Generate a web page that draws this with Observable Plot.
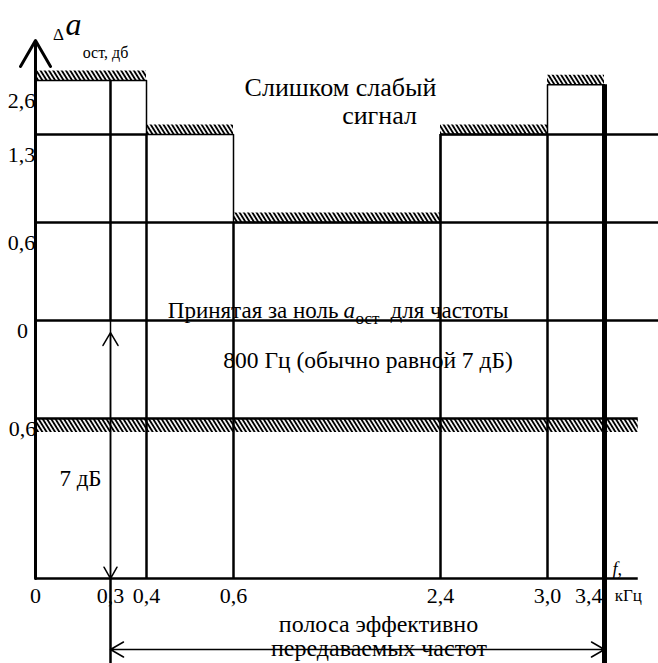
<!DOCTYPE html>
<html><head><meta charset="utf-8">
<script src="https://cdn.jsdelivr.net/npm/d3@7"></script>
<script src="https://cdn.jsdelivr.net/npm/@observablehq/plot@0.6"></script>
<style>body{margin:0;background:#fff} svg text{font-family:"Liberation Serif",serif}</style>
</head><body><div id="chart"></div>
<script>
// boundary frequencies, kHz
const freqs = [0, 0.3, 0.4, 0.6, 2.4, 3.0, 3.4];
const freqLabels = ["0", "0,3", "0,4", "0,6", "2,4", "3,0", "3,4"];
// residual attenuation levels, dB
const levels = [2.6, 1.3, 0.6, 0, -0.6];
const levelLabels = ["2,6", "1,3", "0,6", "0", "0,6"];
// upper tolerance template (start frequency of each step and its level)
const upperX = [0, 0.4, 0.6, 2.4, 3.0, 3.4];
const upperY = [2.6, 1.3, 0.6, 1.3, 2.5, 2.5];
// lower tolerance level
const lowerLevel = -0.6;
// schematic (non-uniform) axes: piecewise scales
const xDomain = [0, 0.3, 0.4, 0.6, 2.4, 3.0, 3.4, 3.8];
const xRange = [35, 110, 146, 233, 440, 547, 604, 658];
const yDomain = [-2.4, -1.5, -0.6, 0, 0.6, 1.3, 2.6, 3.6];
const yRange = [663, 578, 418, 320, 222, 134, 80, 0];
const axisY0 = -1.5;   // level of the frequency axis
const xEnd = 3.65, xMax = 3.8, yTop = 3.1, yBottom = -2.4;

const steps = upperX.slice(0, -1).map((x, i) => ({x1: x, x2: upperX[i + 1], y: upperY[i]}));
const upperPts = upperX.map((x, i) => ({x, y: upperY[i]}));
const hRules = [
  {y: 1.3, x1: 0, x2: 0.4}, {y: 1.3, x1: 2.4, x2: xMax},
  {y: 0.6, x1: 0, x2: xMax}, {y: 0, x1: 0, x2: xMax},
  {y: lowerLevel, x1: 0, x2: xEnd}
];
const vRules = [
  {x: 0.3, y1: 2.6, y2: 0}, {x: 0.3, y1: axisY0, y2: yBottom},
  {x: 0.4, y1: 1.3, y2: axisY0}, {x: 0.6, y1: 0.6, y2: axisY0},
  {x: 2.4, y1: 1.3, y2: axisY0}, {x: 3.0, y1: 1.3, y2: axisY0}
];
const serif = '"Liberation Serif", serif';
const T = (s, o) => Plot.text([s], {text: d => d, fontFamily: serif, fill: "#000", ...o});
const xi = freqs.map((d, i) => i);
const li = levels.map((d, i) => i);

const plot = Plot.plot({
  width: 658, height: 663,
  margin: 0,
  style: {fontFamily: serif, fontSize: "20px", background: "#fff", color: "#000"},
  x: {type: "linear", domain: xDomain, range: xRange, axis: null},
  y: {type: "linear", domain: yDomain, range: yRange, axis: null},
  marks: [
    // hatching
    Plot.ruleY(steps, {y: "y", x1: "x1", x2: "x2", stroke: "url(#hatch)", strokeWidth: 10, dy: -5}),
    Plot.ruleY([lowerLevel], {x1: 0, x2: xEnd, stroke: "url(#hatch)", strokeWidth: 13, dy: 7}),
    // upper template outline
    Plot.line(upperPts, {x: "x", y: "y", curve: "step-after", stroke: "#000", strokeWidth: 1.5}),
    // grid of boundaries
    Plot.ruleY(hRules, {y: "y", x1: "x1", x2: "x2", stroke: "#000", strokeWidth: 2.5}),
    Plot.ruleX(vRules, {x: "x", y1: "y1", y2: "y2", stroke: "#000", strokeWidth: 2.5}),
    Plot.ruleX([3.4], {y1: 2.5, y2: yBottom, stroke: "#000", strokeWidth: 5}),
    // axes
    Plot.ruleY([axisY0], {x1: 0, x2: xEnd, stroke: "#000", strokeWidth: 2.5}),
    Plot.arrow([0], {x1: 0, x2: 0, y1: axisY0, y2: yTop, stroke: "#000", strokeWidth: 3, headLength: 15}),
    // 7 dB arrows
    Plot.arrow([0], {x1: 0.3, x2: 0.3, y1: 0, y2: axisY0, stroke: "#000", strokeWidth: 1.5, headLength: 13}),
    Plot.arrow([0], {x1: 0.3, x2: 0.3, y1: axisY0, y2: 0, insetEnd: 12, stroke: "#000", strokeWidth: 1.5, headLength: 15}),
    // band arrow
    Plot.arrow([0], {x1: 1.9, x2: 0.3, y1: -2.252, y2: -2.252, stroke: "#000", strokeWidth: 1.5, headLength: 15}),
    Plot.arrow([0], {x1: 1.9, x2: 3.4, y1: -2.252, y2: -2.252, stroke: "#000", strokeWidth: 1.5, headLength: 15}),
    // frequency tick labels
    Plot.text(xi.slice(0, -1), {x: i => freqs[i], y: axisY0, text: i => freqLabels[i], dy: 17, fontSize: 22, fontFamily: serif, fill: "#000"}),
    Plot.text(xi.slice(-1), {x: i => freqs[i], y: axisY0, text: i => freqLabels[i], textAnchor: "end", dx: -2, dy: 17, fontSize: 22, fontFamily: serif, fill: "#000"}),
    // level tick labels
    Plot.text(li.slice(0, 3), {x: 0, y: i => levels[i], text: i => levelLabels[i], dx: -14, dy: 20, fontSize: 22, fontFamily: serif, fill: "#000"}),
    Plot.text(li.slice(3), {x: 0, y: i => levels[i], text: i => levelLabels[i], dx: -13, dy: 10, fontSize: 22, fontFamily: serif, fill: "#000"}),
    T("f,", {x: xEnd, y: axisY0, dx: -21, dy: -9, fontStyle: "italic", fontSize: 18}),
    T("кГц", {x: xEnd, y: axisY0, dx: -10, dy: 17, fontSize: 17}),
    // y title
    T("Δ", {x: 0, y: yTop, dx: 23, dy: -6, fontSize: 17}),
    T("a", {x: 0, y: yTop, dx: 38, dy: -16, fontSize: 32, fontStyle: "italic"}),
    T("ост, дб", {x: 0, y: yTop, dx: 70, dy: 12, fontSize: 16}),
    // annotations
    T("Слишком слабый", {x: 1.53, y: 2.439, fontSize: 26}),
    T("сигнал", {x: 1.87, y: 1.765, fontSize: 26}),
    T("Принятая за ноль", {x: 1.548, y: 0, textAnchor: "end", dx: -4, dy: -10, fontSize: 23}),
    T("a", {x: 1.548, y: 0, textAnchor: "start", dx: 1, dy: -10, fontSize: 23, fontStyle: "italic"}),
    T("ост", {x: 1.548, y: 0, textAnchor: "start", dx: 13, dy: -2, fontSize: 17}),
    T("для частоты", {x: 1.548, y: 0, textAnchor: "start", dx: 48, dy: -10, fontSize: 23}),
    T("800 Гц (обычно равной 7 дБ)", {x: 1.7696, y: -0.242, fontSize: 23.5}),
    T("7 дБ", {x: 0.18, y: -0.9375, fontSize: 23}),
    T("полоса эффективно", {x: 1.861, y: -1.99, fontSize: 24}),
    T("передаваемых частот", {x: 1.865, y: -2.244, fontSize: 24})
  ]
});

const svg = d3.select(plot);
const pat = svg.insert("defs", ":first-child").append("pattern")
  .attr("id", "hatch").attr("patternUnits", "userSpaceOnUse")
  .attr("width", 3.6).attr("height", 10).attr("patternTransform", "rotate(-32)");
pat.append("line").attr("x1", 1.8).attr("x2", 1.8).attr("y1", -1).attr("y2", 11)
  .attr("stroke", "#000").attr("stroke-width", 1.9);
document.getElementById("chart").appendChild(plot);
</script>
</body></html>
